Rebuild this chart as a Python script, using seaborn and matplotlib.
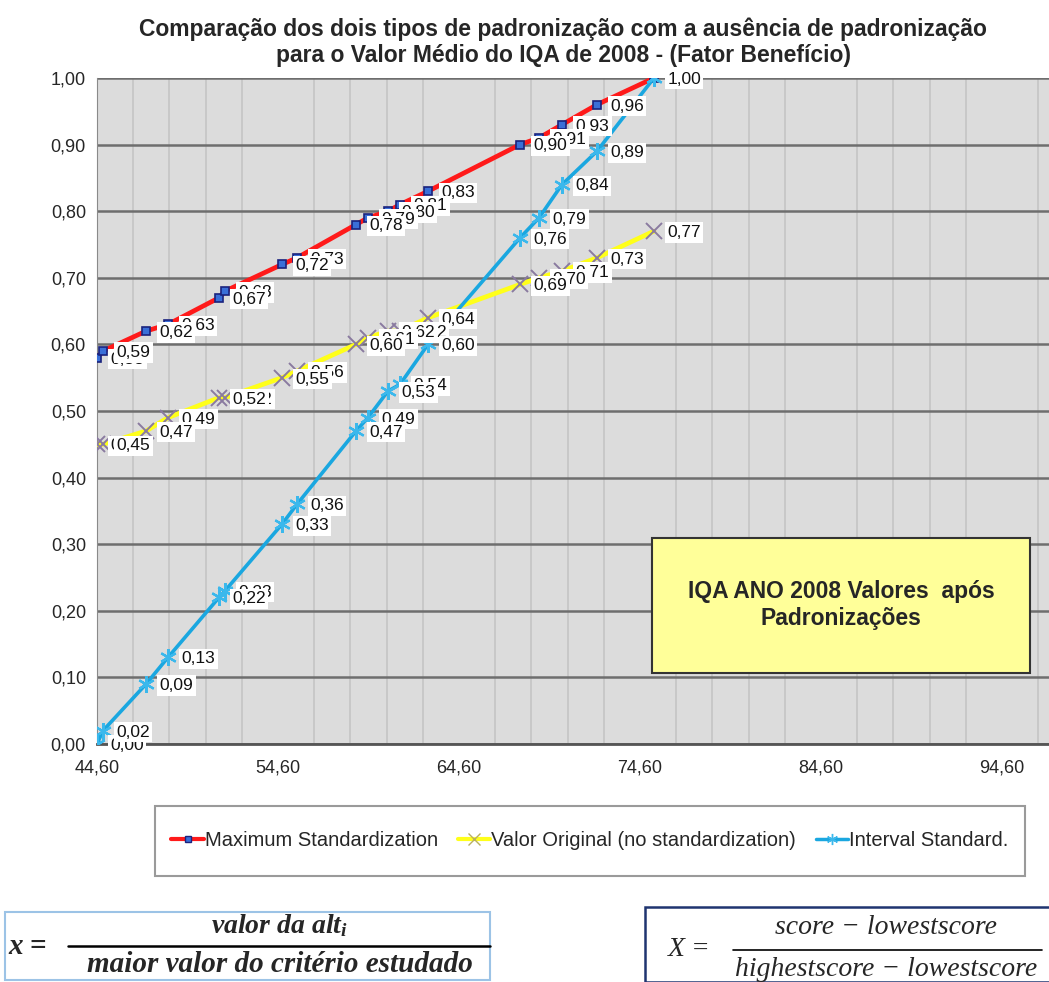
import numpy as np
import pandas as pd
import seaborn as sns
import matplotlib.pyplot as plt
from matplotlib.patches import Rectangle
from matplotlib.lines import Line2D

# IQA values (x) and the three series
iqa = [44.60, 44.93, 47.31, 48.52, 51.34, 51.67, 54.82, 55.65, 58.91,
       59.57, 60.68, 61.34, 62.89, 67.97, 69.02, 70.29, 72.22, 75.37]
max_std = [0.58, 0.59, 0.62, 0.63, 0.67, 0.68, 0.72, 0.73, 0.78,
           0.79, 0.80, 0.81, 0.83, 0.90, 0.91, 0.93, 0.96, 1.00]
original = [0.45, 0.45, 0.47, 0.49, 0.52, 0.52, 0.55, 0.56, 0.60,
            0.61, 0.62, 0.62, 0.64, 0.69, 0.70, 0.71, 0.73, 0.77]
interval = [0.00, 0.02, 0.09, 0.13, 0.22, 0.23, 0.33, 0.36, 0.47,
            0.49, 0.53, 0.54, 0.60, 0.76, 0.79, 0.84, 0.89, 1.00]

x_ticks = [44.60, 54.60, 64.60, 74.60, 84.60, 94.60]
y_ticks = [0.0, 0.1, 0.2, 0.3, 0.4, 0.5, 0.6, 0.7, 0.8, 0.9, 1.0]

series_names = ['Maximum Standardization', 'Valor Original (no standardization)', 'Interval Standard.']

sns.set_style('white')
plt.rcParams['font.family'] = ['Liberation Sans', 'DejaVu Sans']
plt.rcParams['mathtext.fontset'] = 'custom'
plt.rcParams['mathtext.it'] = 'Liberation Serif:italic:bold'
plt.rcParams['mathtext.rm'] = 'Liberation Serif:bold'


def br(v):
    return f'{v:.2f}'.replace('.', ',')


fig = plt.figure(figsize=(10.49, 9.82), dpi=100)
ax = fig.add_axes([97 / 1049, 1 - 744 / 982, 1 - 97 / 1049, (744 - 78) / 982])
ax.set_facecolor('#dcdcdc')

df = pd.DataFrame({'iqa': iqa, 'max_std': max_std, 'original': original, 'interval': interval})

sns.lineplot(data=df, x='iqa', y='max_std', ax=ax, sort=False, color='#ff1a1a', linewidth=3.4,
             marker='s', markersize=6, markerfacecolor='#3a6fd8', markeredgecolor='#1a237e',
             markeredgewidth=1.2, label=series_names[0], zorder=4)
sns.lineplot(data=df, x='iqa', y='original', ax=ax, sort=False, color='#ffff1a', linewidth=3.4,
             marker='x', markersize=11, markeredgecolor='#8a7aa0', markeredgewidth=1.4,
             label=series_names[1], zorder=4)
sns.lineplot(data=df, x='iqa', y='interval', ax=ax, sort=False, color='#1aa7e0', linewidth=2.6,
             marker=(6, 2, 0), markersize=12, markeredgecolor='#3bb8ec', markeredgewidth=1.6,
             label=series_names[2], zorder=5)

# data labels: earlier labels sit over later ones, except the very first which sits behind
for k, col in enumerate(['max_std', 'original', 'interval']):
    n = len(df)
    for i, (xv, yv) in enumerate(zip(df['iqa'], df[col])):
        z = 6 + k + (n - i) * 0.01 if i > 0 else 6 + k
        ax.annotate(br(yv), (xv, yv), xytext=(9.5, -1), textcoords='offset points',
                    fontsize=12.5, color='#111111', va='center', ha='left', zorder=z,
                    bbox=dict(boxstyle='square,pad=0.15', fc='white', ec='none'),
                    annotation_clip=False)

ax.set_xlim(44.6, 44.6 + 952 / 18.1)
ax.set_ylim(0, 1)
ax.set_xticks(x_ticks)
ax.set_xticklabels([br(t) for t in x_ticks], fontsize=13)
ax.set_yticks(y_ticks)
ax.set_yticklabels([br(t) for t in y_ticks], fontsize=13)
ax.set_xticks(np.arange(44.6, 97.3, 2), minor=True)
ax.grid(axis='y', which='major', color='#6e6e6e', linewidth=1.8, zorder=1)
ax.grid(axis='x', which='minor', color='#c4c4c4', linewidth=1.2, zorder=1)
ax.set_axisbelow(True)
ax.tick_params(axis='x', which='major', direction='out', length=5, color='#555555', pad=6)
ax.tick_params(axis='x', which='minor', length=0)
ax.tick_params(axis='y', direction='out', length=4, color='#555555', pad=4)
for s in ['top', 'right']:
    ax.spines[s].set_visible(False)
ax.spines['left'].set_color('#8a8a8a')
ax.spines['bottom'].set_color('#555555')
ax.spines['bottom'].set_linewidth(2)
ax.set_xlabel('')
ax.set_ylabel('')
ax.get_legend().remove()

fig.text(0.537, 1 - 42 / 982,
         'Comparação dos dois tipos de padronização com a ausência de padronização\n'
         'para o Valor Médio do IQA de 2008 - (Fator Benefício)',
         ha='center', va='center', fontsize=16.5, fontweight='bold', linespacing=1.15)

# yellow note box
fig.patches.append(Rectangle((652 / 1049, 1 - 673 / 982), 378 / 1049, 135 / 982,
                             transform=fig.transFigure, fc='#ffff99', ec='#333333', lw=1.5, zorder=10))
fig.text(841 / 1049, 1 - 605 / 982, 'IQA ANO 2008 Valores  após\nPadronizações',
         ha='center', va='center', fontsize=16.5, fontweight='bold', zorder=11, linespacing=1.2)

# legend box
fig.patches.append(Rectangle((155 / 1049, 1 - 876 / 982), 870 / 1049, 70 / 982,
                             transform=fig.transFigure, fc='white', ec='#9a9a9a', lw=1.5))
handles = [
    Line2D([], [], color='#ff1a1a', lw=3, marker='s', markersize=5, markerfacecolor='#3a6fd8',
           markeredgecolor='#1a237e'),
    Line2D([], [], color='#ffff1a', lw=3, marker='x', markersize=8, markeredgecolor='#b8b060'),
    Line2D([], [], color='#1aa7e0', lw=2.5, marker=(6, 2, 0), markersize=8, markeredgecolor='#3bb8ec'),
]
fig.legend(handles, series_names, loc='center', bbox_to_anchor=(590 / 1049, 1 - 841 / 982),
           ncol=3, frameon=False, fontsize=14.5, handlelength=1.6, handletextpad=0.05, columnspacing=1.0)

# formula boxes
fig.patches.append(Rectangle((5 / 1049, 1 - 980 / 982), 485 / 1049, 68 / 982,
                             transform=fig.transFigure, fc='white', ec='#9cc3e6', lw=1.5))
fig.text(8 / 1049, 1 - 946 / 982, 'x =', ha='left', va='center', fontsize=21,
         family='Liberation Serif', style='italic', fontweight='bold')
fig.text(280 / 1049, 1 - 926 / 982, r'valor da alt$_{i}$', ha='center', va='center', fontsize=20,
         family='Liberation Serif', style='italic', fontweight='bold')
fig.add_artist(Line2D([68 / 1049, 490 / 1049], [1 - 946 / 982, 1 - 946 / 982], color='black', lw=1.8))
fig.text(280 / 1049, 1 - 965 / 982, 'maior valor do critério estudado', ha='center', va='center',
         fontsize=21, family='Liberation Serif', style='italic', fontweight='bold')

fig.patches.append(Rectangle((645 / 1049, 1 - 982 / 982), 410 / 1049, 75 / 982,
                             transform=fig.transFigure, fc='white', ec='#1f3470', lw=1.8))
fig.text(668 / 1049, 1 - 950 / 982, 'X =', ha='left', va='center', fontsize=20,
         family='Liberation Serif', style='italic')
fig.text(886 / 1049, 1 - 927 / 982, 'score − lowestscore', ha='center', va='center', fontsize=20,
         family='Liberation Serif', style='italic')
fig.add_artist(Line2D([733 / 1049, 1042 / 1049], [1 - 950 / 982, 1 - 950 / 982], color='black', lw=1.2))
fig.text(886 / 1049, 1 - 970 / 982, 'highestscore − lowestscore', ha='center', va='center',
         fontsize=20, family='Liberation Serif', style='italic')

fig.savefig('out.png', dpi=100)
